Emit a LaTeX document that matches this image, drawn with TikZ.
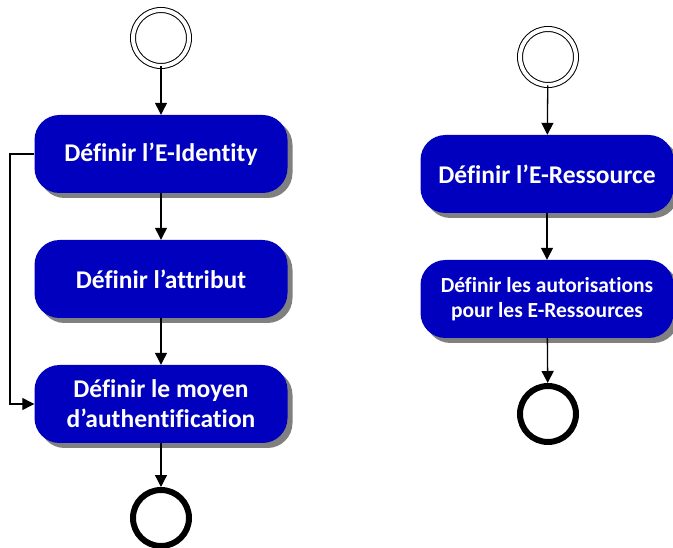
\documentclass[tikz,border=0pt]{standalone}
\usepackage{fontspec}
\setmainfont{Carlito}[Ligatures=NoCommon]
\usetikzlibrary{arrows.meta,shadows}

\begin{document}
\begin{tikzpicture}[x=1pt,y=-1pt]
					\tikzstyle{etape}=[rectangle,rounded corners=25pt,fill={rgb,255:red,0;green,0;blue,190},text=white,minimum width=253pt,minimum height=78pt,align=center,font=\fontsize{25.5}{30}\selectfont\bfseries,drop shadow={shadow xshift=5pt,shadow yshift=-5pt,fill=gray,opacity=1}]
					\tikzstyle{debut}=[circle,draw=black,line width=1pt,double,double distance=4pt,minimum size=56pt,inner sep=0pt]
					\tikzstyle{fin}=[circle,draw=black,line width=6pt,minimum size=56pt,inner sep=0pt]
					\tikzstyle{fleche}=[line width=1.3pt,-{Triangle[width=12pt,length=12pt]}]
					\useasboundingbox (0,0) rectangle (673,548);
					\node[debut] (s1) at (161,38) {};
					\node[etape] (a1) at (161,154) {Définir l’E-Identity};
					\node[etape] (a2) at (161,279) {Définir l’attribut};
					\node[etape] (a3) at (161,404) {Définir le moyen\\d’authentification};
					\node[fin] (e1) at (161,518) {};
					\node[debut] (s2) at (548,57) {};
					\node[etape] (b1) at (547,174) {Définir l’E-Ressource};
					\node[etape,font=\fontsize{21.5}{25}\selectfont\bfseries] (b2) at (547,299) {Définir les autorisations\\pour les E-Ressources};
					\node[fin] (e2) at (548,414) {};
					\coordinate (k) at (10,154);
					\draw[fleche] (s1) -- (a1);
					\draw[fleche] (a1) -- (a2);
					\draw[fleche] (a2) -- (a3);
					\draw[fleche] (a3) -- (e1);
					\draw[fleche] (a1.west) -- (k) |- (a3.west);
					\draw[fleche] (s2) -- (b1);
					\draw[fleche] (b1) -- (b2);
					\draw[fleche] (b2) -- (e2);
					\end{tikzpicture}
\end{document}
